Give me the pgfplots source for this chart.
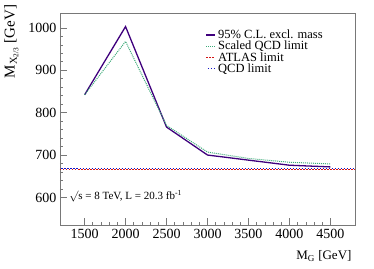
\documentclass[border=0pt]{standalone}
\usepackage{pgfplots}
\pgfplotsset{compat=1.18}
\usepackage{fontspec}
\setmainfont{Liberation Serif}
\definecolor{cpurp}{RGB}{63,0,125}
\definecolor{cgreen}{RGB}{60,170,120}
\definecolor{cred}{RGB}{210,20,20}
\definecolor{cblue}{RGB}{20,20,200}
\definecolor{frame}{RGB}{120,120,120}
\begin{document}
\begin{tikzpicture}
\begin{axis}[
  scale only axis, width=295pt, height=212pt,
  xmin=1200, xmax=4800, ymin=535, ymax=1035,
  xtick={1500,2000,...,4500}, ytick={600,700,...,1000},
  minor x tick num=4, minor y tick num=4,
  tick align=inside, xtick pos=bottom, ytick pos=left,
  major tick length=7pt, minor tick length=3.5pt,
  every tick/.style={frame, line width=0.6pt},
  axis line style={frame, line width=0.6pt},
  /pgf/number format/assume math mode=true,
  /pgf/number format/1000 sep={},
  tick label style={font=\fontsize{14}{14}\selectfont, black},
  xticklabel style={yshift=-1pt},
  xlabel={M\textsubscript{G} [GeV]},
  xlabel style={font=\fontsize{13}{13}\selectfont, at={(rel axis cs:1,0)}, anchor=north east, yshift=-22pt},
  ylabel={M\textsubscript{X\textsubscript{2/3}} [GeV]},
  ylabel style={font=\fontsize{15}{15}\selectfont, at={(rel axis cs:-0.165,1.055)}, anchor=east},
  legend style={draw=none, fill=none, at={(rel axis cs:0.49,0.935)}, anchor=north west,
    font=\fontsize{12.5}{13}\selectfont, row sep=-3pt, inner sep=1pt},
  legend cell align=left,
  legend image code/.code={\draw[#1] (0pt,0pt) -- (9pt,0pt);},
]
\addplot[cpurp, line width=1.3pt] coordinates {(1500,842) (2000,1003) (2500,766) (3000,700) (3500,688) (4000,676) (4500,672)};
\addlegendentry{95\% C.L. excl. mass}
\addplot[cgreen, line width=1pt, densely dotted] coordinates {(1500,842) (2000,968) (2500,770) (3000,707) (3500,692) (4000,683) (4500,679)};
\addlegendentry{Scaled QCD limit}
\addplot[cred, line width=1.4pt, dash pattern=on 1.5pt off 1.5pt] coordinates {(1200,665.5) (4800,665.5)};
\addlegendentry{ATLAS limit}
\addplot[cblue, line width=1.4pt, dash pattern=on 1.5pt off 1.5pt, dash phase=1.5pt] coordinates {(1200,668) (4800,668)};
\addlegendentry{QCD limit}
\node[anchor=west, font=\fontsize{11}{11}\selectfont] at (axis cs:1270,603) {$\surd$s = 8 TeV, L = 20.3 fb\textsuperscript{-1}};
\end{axis}
\path[use as bounding box] (-60pt,-43pt) rectangle (314pt,225pt);
\end{tikzpicture}
\end{document}
